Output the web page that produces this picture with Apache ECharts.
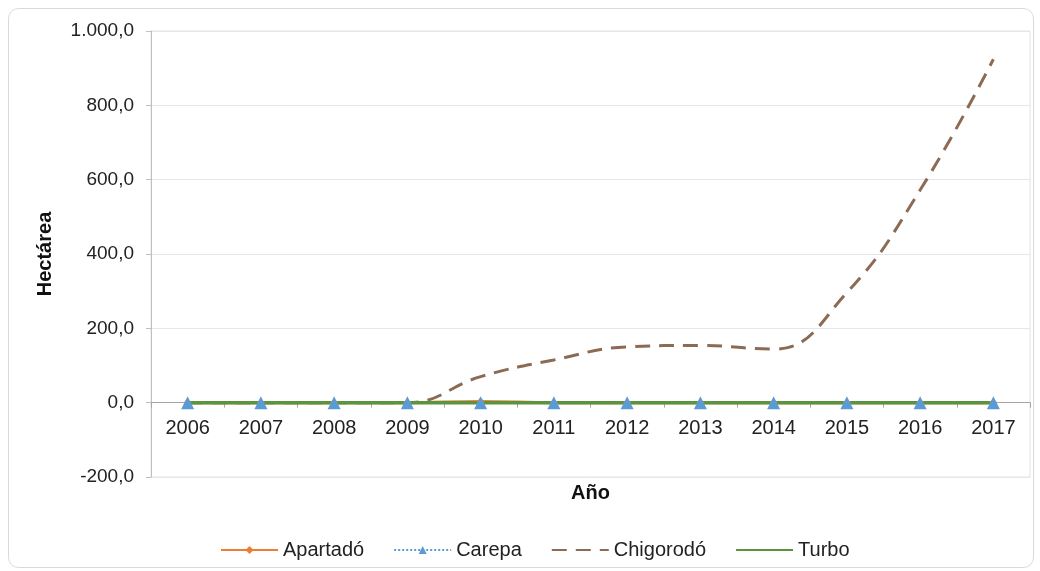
<!DOCTYPE html>
<html><head><meta charset="utf-8">
<script src="https://cdn.jsdelivr.net/npm/echarts@6/dist/echarts.min.js"></script>
<style>html,body{margin:0;padding:0;background:#fff}#c{width:1040px;height:571px}</style>
</head><body><div id="c"></div>
<script>
const years = ['2006','2007','2008','2009','2010','2011','2012','2013','2014','2015','2016','2017'];
const apartado = [0,0,0,0,3,0,0,0,0,0,0,0];
const carepa = [0,0,0,0,0,0,0,0,0,0,0,0];
const chigorodo = [0,0,0,0,70,115,150,154,144,296,572,924];
const turbo = [0,0,0,0,0,0,0,0,0,0,0,0];

function fmt(v){
  const neg = v < 0; let a = Math.abs(v);
  let s = a.toFixed(1).split('.');
  let ip = s[0].replace(/\B(?=(\d{3})+(?!\d))/g, '.');
  return (neg?'-':'') + ip + ',' + s[1];
}
const font = 'Liberation Sans, Arial, sans-serif';
const chart = echarts.init(document.getElementById('c'));
chart.setOption({
  animation:false,
  textStyle:{fontFamily:font},
  graphic:[{type:'rect',z:-10,shape:{x:8.5,y:8.5,width:1025,height:559,r:10},style:{fill:'#fff',stroke:'#d9d9d9',lineWidth:1}}],
  grid:{left:151,right:10,top:31,bottom:94,outerBoundsMode:'none',containLabel:false,show:true,borderColor:'#e3e3e3',borderWidth:1},
  legend:{bottom:6,left:215,itemWidth:57,itemHeight:10,itemGap:29,
    textStyle:{fontSize:20,color:'#222',fontFamily:font},
    data:['Apartadó','Carepa',{name:'Chigorodó',itemStyle:{opacity:0}},{name:'Turbo',itemStyle:{opacity:0}}]},
  xAxis:{type:'category',data:years,boundaryGap:true,
    name:'Año',nameLocation:'middle',nameGap:6,nameMoveOverlap:false,
    nameTextStyle:{fontWeight:'bold',fontSize:20,color:'#111'},
    axisLine:{onZero:true,lineStyle:{color:'#a6a6a6',width:1}},
    axisTick:{show:true,inside:false,length:5,lineStyle:{color:'#a6a6a6'}},
    axisLabel:{fontSize:20,color:'#222',margin:-59}},
  yAxis:{type:'value',min:-200,max:1000,interval:200,
    name:'Hectárea',nameLocation:'middle',nameGap:96,nameRotate:90,nameMoveOverlap:false,
    nameTextStyle:{fontWeight:'bold',fontSize:20,color:'#111'},
    axisLine:{show:true,lineStyle:{color:'#bfbfbf'}},
    axisTick:{show:true,length:5,lineStyle:{color:'#bfbfbf'}},
    splitLine:{lineStyle:{color:'#e6e6e6'}},
    axisLabel:{fontSize:19,color:'#222',margin:17,formatter:fmt}},
  series:[
    {name:'Apartadó',type:'line',data:apartado,smooth:0.4,symbol:'diamond',symbolSize:8,
      itemStyle:{color:'#ED7D31'},lineStyle:{color:'#ED7D31',width:3}},
    {name:'Carepa',type:'line',data:carepa,smooth:0.4,symbol:'triangle',symbolSize:13,
      itemStyle:{color:'#5B9BD5'},lineStyle:{color:'#5B9BD5',width:2.5,type:'dotted'}},
    {name:'Chigorodó',type:'line',data:chigorodo,smooth:0.45,symbol:'none',
      itemStyle:{color:'#8C6B54'},lineStyle:{color:'#8C6B54',width:3,type:[15,9]}},
    {name:'Turbo',type:'line',data:turbo,smooth:0.4,symbol:'none',
      itemStyle:{color:'#5A9440'},lineStyle:{color:'#5A9440',width:3.5}}
  ]
});
</script></body></html>
